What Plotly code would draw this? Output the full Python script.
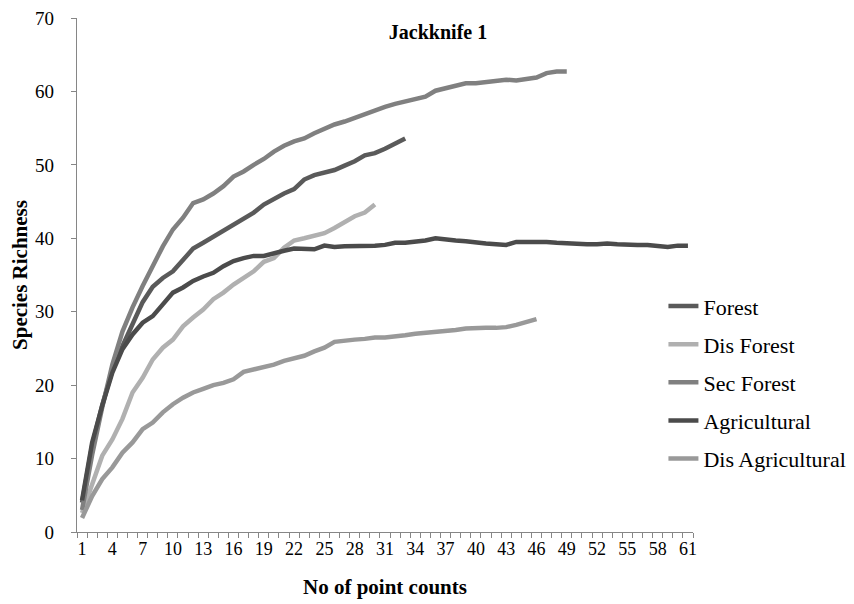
import plotly.graph_objects as go

# x categories (number of point counts)
point_counts = list(range(1, 62))
x_tick_labels = [str(i) for i in point_counts]

series_names = ["Forest", "Dis Forest", "Sec Forest", "Agricultural", "Dis Agricultural"]
series_colors = ["#5a5a5a", "#b0b0b0", "#808080", "#4b4b4b", "#999999"]

forest = [4.0, 11.8, 17.3, 22.0, 25.3, 28.3, 31.3, 33.4, 34.6, 35.5, 37.1, 38.6, 39.4, 40.2,
          41.0, 41.9, 42.6, 43.5, 44.6, 45.4, 46.1, 46.7, 48.0, 48.6, 49.0, 49.3, 49.9, 50.5,
          51.3, 51.6, 52.2, 52.9, 53.6]

dis_forest = [2.6, 6.3, 10.4, 12.6, 15.4, 19.0, 21.0, 23.5, 25.1, 26.2, 28.0, 29.2, 30.3, 31.7,
              32.6, 33.7, 34.6, 35.5, 36.8, 37.3, 38.7, 39.7, 40.0, 40.3, 40.7, 41.4, 42.2, 43.0,
              43.5, 44.6]

sec_forest = [3.0, 10.5, 17.0, 22.8, 27.3, 30.6, 33.5, 36.2, 38.9, 41.2, 42.8, 44.8, 45.3, 46.1,
              47.1, 48.4, 49.1, 50.0, 50.8, 51.8, 52.6, 53.2, 53.6, 54.3, 54.9, 55.5, 55.9, 56.4,
              57.0, 57.5, 57.9, 58.3, 58.6, 59.0, 59.3, 60.1, 60.4, 60.7, 61.1, 61.1, 61.3, 61.5,
              61.6, 61.5, 61.7, 61.9, 62.5, 62.7, 62.7]

agricultural = [4.3, 12.2, 17.2, 21.7, 24.9, 26.9, 28.5, 29.4, 31.0, 32.6, 33.3, 34.2, 34.8, 35.3,
                36.2, 36.9, 37.3, 37.6, 37.6, 38.0, 38.3, 38.6, 38.6, 38.5, 39.0, 38.8, 38.9, 38.9,
                39.0, 39.0, 39.1, 39.4, 39.4, 39.5, 39.7, 40.0, 39.8, 39.7, 39.6, 39.4, 39.3, 39.2,
                39.1, 39.5, 39.5, 39.6, 39.5, 39.4, 39.3, 39.3, 39.2, 39.2, 39.3, 39.2, 39.1, 39.1,
                39.1, 39.0, 38.8, 39.0, 39.0]

dis_agricultural = [1.9, 4.9, 7.2, 8.8, 10.8, 12.2, 14.0, 14.9, 16.3, 17.4, 18.3, 19.0, 19.5, 20.0,
                    20.3, 20.8, 21.8, 22.1, 22.4, 22.8, 23.3, 23.7, 24.0, 24.6, 25.1, 25.9, 26.1,
                    26.2, 26.3, 26.5, 26.5, 26.6, 26.8, 27.0, 27.1, 27.2, 27.3, 27.5, 27.7, 27.8,
                    27.8, 27.8, 27.9, 28.2, 28.6, 29.0]

all_series = [forest, dis_forest, sec_forest, agricultural, dis_agricultural]

FONT = "Liberation Serif"
AXIS_COLOR = "#868686"

fig = go.Figure()
for name, color, vals in zip(series_names, series_colors, all_series):
    fig.add_trace(go.Scatter(
        x=point_counts[:len(vals)], y=vals, name=name, mode="lines",
        legendgroup=name,
        line=dict(color=color, width=4.5),
    ))

tick_idx = list(range(0, len(point_counts), 3))

W, H = 846, 596

fig.update_layout(
    width=W, height=H,
    paper_bgcolor="white", plot_bgcolor="white",
    margin=dict(l=69, r=161, t=10, b=72, autoexpand=False),
    font=dict(family=FONT, color="black", size=19),
    title=dict(text="<b>Jackknife 1</b>", font=dict(size=20, family=FONT, color="black"),
               x=430 / W, xanchor="center", xref="container",
               y=1 - 24 / H, yanchor="middle", yref="container"),
    showlegend=True,
    legend=dict(
        x=0.952, xanchor="left", y=0.48, yanchor="top",
        font=dict(size=22, family=FONT, color="black"),
        tracegroupgap=6.5, bgcolor="rgba(0,0,0,0)",
    ),
    xaxis=dict(
        range=[0.5, 61.5], showgrid=False, zeroline=False, automargin=False,
        showline=True, linecolor=AXIS_COLOR, linewidth=1.3,
        tickmode="array",
        tickvals=[point_counts[i] for i in tick_idx],
        ticktext=[x_tick_labels[i] for i in tick_idx],
        ticks="", tickfont=dict(size=18, family=FONT, color="black"),
        ticklabeloverflow="allow",
        minor=dict(tickmode="linear", tick0=0.5, dtick=1, ticks="outside",
                   ticklen=5, tickcolor=AXIS_COLOR, tickwidth=1.3, showgrid=False),
        title=dict(text="<b>No of point counts</b>", font=dict(size=21, family=FONT, color="black"),
                   standoff=21),
    ),
    yaxis=dict(
        range=[0, 70], dtick=10, showgrid=False, zeroline=False, automargin=False,
        showline=True, linecolor=AXIS_COLOR, linewidth=1.3,
        ticks="outside", ticklen=5, tickcolor=AXIS_COLOR, tickwidth=1.3,
        ticklabelstandoff=13, ticklabeloverflow="allow",
        tickfont=dict(size=19, family=FONT, color="black"),
        title=dict(text="<b>Species Richness</b>", font=dict(size=21, family=FONT, color="black"),
                   standoff=6),
    ),
)

fig.write_html("out.html")
